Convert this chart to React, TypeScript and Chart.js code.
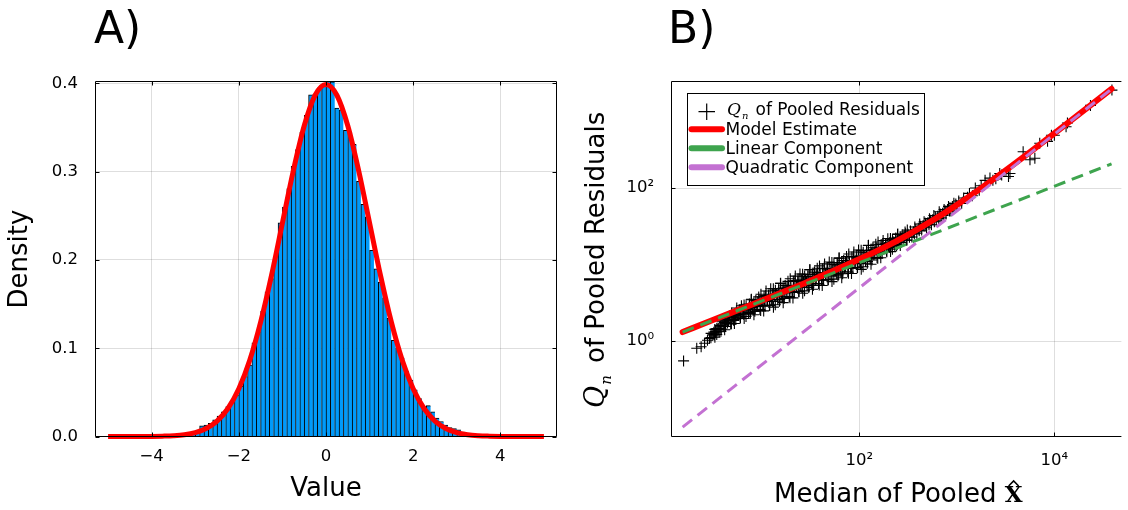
import React, { useEffect, useRef } from "react";
import { Chart, registerables } from "chart.js";

Chart.register(...registerables);

const SANS = '"DejaVu Sans", "Liberation Sans", sans-serif';
const SERIF = '"DejaVu Serif", "Liberation Serif", serif';

// ---------------- Panel A data ----------------
const histBinStart = -3.4;
const histBinWidth = 0.1;
const histDensity = [
  0.001, 0.002, 0.003, 0.004, 0.005,
  0.012, 0.013, 0.015, 0.019, 0.023, 0.028, 0.034, 0.04, 0.047, 0.057,
  0.068, 0.081, 0.106, 0.119, 0.142, 0.164, 0.179, 0.204, 0.242, 0.26,
  0.281, 0.306, 0.325, 0.345, 0.364, 0.387, 0.388, 0.395, 0.399,
  0.403, 0.402, 0.372, 0.37, 0.347, 0.345, 0.331, 0.289, 0.263, 0.249,
  0.211, 0.19, 0.175, 0.157, 0.134, 0.109, 0.1, 0.089, 0.074, 0.064,
  0.053, 0.043, 0.034, 0.035, 0.028, 0.021, 0.017, 0.013, 0.01, 0.009,
  0.0075, 0.005, 0.003, 0.002, 0.001,
];
const pdfX = [
  -5, -4.75, -4.5, -4.25, -4, -3.75, -3.5, -3.25, -3, -2.75, -2.5, -2.25, -2, -1.75, -1.5, -1.25, -1, -0.75, -0.5, -0.25,
  0, 0.25, 0.5, 0.75, 1, 1.25, 1.5, 1.75, 2, 2.25, 2.5, 2.75, 3, 3.25, 3.5, 3.75, 4, 4.25, 4.5, 4.75, 5,
];
const pdfY = [
  0, 0, 0, 0, 0.0001, 0.0004, 0.0009, 0.002, 0.0044, 0.0091, 0.0175, 0.0317, 0.054, 0.0863, 0.1295, 0.1826, 0.242, 0.3011, 0.3521, 0.3867,
  0.3989, 0.3867, 0.3521, 0.3011, 0.242, 0.1826, 0.1295, 0.0863, 0.054, 0.0317, 0.0175, 0.0091, 0.0044, 0.002, 0.0009, 0.0004, 0.0001, 0, 0, 0, 0,
];
const histXTicks = [-4, -2, 0, 2, 4];
const histYTicks = [0, 0.1, 0.2, 0.3, 0.4];
const histXRange = [-5.3, 5.3];
const histYRange = [0, 0.4028];

// ---------------- Panel B data ----------------
// scatter points, as [log10(median), log10(Qn)]
const qnScatterLog: [number, number][] = [
  [0.2, -0.26], [0.335, -0.095], [0.38, -0.075], [0.415, -0.03], [0.445, 0.01], [0.465, 0.035], [0.482, 0.1], [0.515, 0.078], [0.53, 0.12],
  [0.48, 0.044], [0.5, 0.08], [0.51, 0.116], [0.52, 0.152],
  [0.54, 0.085], [0.565, 0.121], [0.55, 0.157], [0.575, 0.196],
  [0.585, 0.156], [0.605, 0.198], [0.62, 0.24], [0.595, 0.275],
  [0.63, 0.191], [0.65, 0.236], [0.66, 0.281], [0.67, 0.326],
  [0.69, 0.225], [0.715, 0.269], [0.7, 0.313], [0.725, 0.361],
  [0.735, 0.286], [0.755, 0.337], [0.77, 0.388], [0.745, 0.431],
  [0.78, 0.31], [0.8, 0.364], [0.81, 0.418], [0.82, 0.472],
  [0.84, 0.322], [0.865, 0.374], [0.85, 0.426], [0.875, 0.483],
  [0.885, 0.377], [0.905, 0.437], [0.92, 0.497], [0.895, 0.547],
  [0.93, 0.388], [0.95, 0.451], [0.96, 0.515], [0.97, 0.577],
  [0.99, 0.398], [1.015, 0.459], [1.0, 0.519], [1.025, 0.585],
  [1.035, 0.458], [1.055, 0.527], [1.07, 0.596], [1.045, 0.653],
  [1.08, 0.467], [1.1, 0.539], [1.11, 0.611], [1.12, 0.683],
  [1.14, 0.475], [1.165, 0.543], [1.15, 0.612], [1.175, 0.687],
  [1.185, 0.543], [1.205, 0.618], [1.22, 0.693], [1.195, 0.755],
  [1.23, 0.555], [1.25, 0.63], [1.26, 0.705], [1.27, 0.78],
  [1.29, 0.567], [1.315, 0.636], [1.3, 0.705], [1.325, 0.78],
  [1.335, 0.636], [1.355, 0.711], [1.37, 0.786], [1.345, 0.849],
  [1.38, 0.649], [1.4, 0.724], [1.41, 0.799], [1.42, 0.874],
  [1.44, 0.656], [1.465, 0.725], [1.45, 0.794], [1.475, 0.869],
  [1.485, 0.72], [1.505, 0.795], [1.52, 0.87], [1.495, 0.933],
  [1.53, 0.726], [1.55, 0.801], [1.56, 0.876], [1.57, 0.951],
  [1.59, 0.732], [1.615, 0.801], [1.6, 0.87], [1.625, 0.945],
  [1.635, 0.795], [1.655, 0.87], [1.67, 0.945], [1.645, 1.008],
  [1.68, 0.802], [1.7, 0.877], [1.71, 0.952], [1.72, 1.027],
  [1.74, 0.809], [1.765, 0.878], [1.75, 0.946], [1.775, 1.021],
  [1.785, 0.872], [1.805, 0.947], [1.82, 1.022], [1.795, 1.084],
  [1.83, 0.88], [1.85, 0.955], [1.86, 1.03], [1.87, 1.105],
  [1.89, 0.887], [1.915, 0.956], [1.9, 1.025], [1.925, 1.1],
  [1.935, 0.952], [1.955, 1.027], [1.97, 1.102], [1.945, 1.164],
  [1.98, 0.96], [2.0, 1.035], [2.01, 1.11], [2.02, 1.185],
  [2.04, 0.971], [2.065, 1.04], [2.05, 1.109], [2.075, 1.184],
  [2.085, 1.039], [2.105, 1.114], [2.12, 1.189], [2.095, 1.251],
  [2.13, 1.059], [2.15, 1.128], [2.16, 1.197], [2.17, 1.266],
  [2.19, 1.083], [2.215, 1.141], [2.2, 1.199], [2.225, 1.262],
  [2.235, 1.154], [2.255, 1.211], [2.27, 1.268], [2.245, 1.315],
  [2.28, 1.177], [2.3, 1.231], [2.31, 1.285], [2.32, 1.339],
  [2.34, 1.201], [2.365, 1.248], [2.35, 1.295], [2.375, 1.346],
  [2.385, 1.264], [2.405, 1.312], [2.42, 1.36], [2.395, 1.4],
  [2.43, 1.29], [2.45, 1.335], [2.46, 1.38], [2.47, 1.425],
  [2.49, 1.319], [2.515, 1.358], [2.5, 1.396], [2.525, 1.438],
  // second pass through the dense band
  [0.513, 0.088], [0.529, 0.126], [0.541, 0.163], [0.521, 0.051],
  [0.583, 0.127], [0.56, 0.164], [0.575, 0.205], [0.593, 0.252],
  [0.613, 0.19], [0.629, 0.234], [0.641, 0.277], [0.621, 0.147],
  [0.683, 0.222], [0.66, 0.265], [0.675, 0.311], [0.693, 0.365],
  [0.713, 0.28], [0.729, 0.329], [0.741, 0.379], [0.721, 0.23],
  [0.783, 0.3], [0.76, 0.349], [0.775, 0.401], [0.793, 0.462],
  [0.813, 0.35], [0.829, 0.406], [0.841, 0.461], [0.821, 0.295],
  [0.883, 0.359], [0.86, 0.413], [0.875, 0.471], [0.893, 0.539],
  [0.913, 0.406], [0.929, 0.467], [0.941, 0.529], [0.921, 0.344],
  [0.983, 0.412], [0.96, 0.472], [0.975, 0.536], [0.993, 0.611],
  [1.013, 0.461], [1.029, 0.529], [1.041, 0.596], [1.021, 0.394],
  [1.083, 0.466], [1.06, 0.531], [1.075, 0.601], [1.093, 0.683],
  [1.113, 0.517], [1.129, 0.59], [1.141, 0.664], [1.121, 0.443],
  [1.183, 0.521], [1.16, 0.59], [1.175, 0.665], [1.193, 0.753],
  [1.213, 0.577], [1.229, 0.652], [1.241, 0.727], [1.221, 0.502],
  [1.283, 0.583], [1.26, 0.652], [1.275, 0.727], [1.293, 0.814],
  [1.313, 0.639], [1.329, 0.714], [1.341, 0.789], [1.321, 0.564],
  [1.383, 0.645], [1.36, 0.714], [1.375, 0.789], [1.393, 0.877],
  [1.413, 0.699], [1.429, 0.774], [1.441, 0.849], [1.421, 0.624],
  [1.483, 0.7], [1.46, 0.769], [1.475, 0.844], [1.493, 0.932],
  [1.513, 0.751], [1.529, 0.826], [1.541, 0.901], [1.521, 0.676],
  [1.583, 0.751], [1.56, 0.82], [1.575, 0.895], [1.593, 0.982],
  [1.613, 0.801], [1.629, 0.876], [1.641, 0.951], [1.621, 0.726],
  [1.683, 0.801], [1.66, 0.87], [1.675, 0.945], [1.693, 1.033],
  [1.713, 0.852], [1.729, 0.927], [1.741, 1.002], [1.721, 0.777],
  [1.783, 0.852], [1.76, 0.921], [1.775, 0.996], [1.793, 1.084],
  [1.813, 0.903], [1.829, 0.978], [1.841, 1.053], [1.821, 0.828],
  [1.883, 0.905], [1.86, 0.974], [1.875, 1.049], [1.893, 1.137],
  [1.913, 0.957], [1.929, 1.032], [1.941, 1.107], [1.921, 0.882],
  [1.983, 0.959], [1.96, 1.028], [1.975, 1.103], [1.993, 1.19],
  [2.013, 1.012], [2.029, 1.087], [2.041, 1.162], [2.021, 0.937],
  [2.083, 1.017], [2.06, 1.086], [2.075, 1.161], [2.093, 1.249],
  [2.113, 1.076], [2.129, 1.148], [2.141, 1.22], [2.121, 1.004],
  [2.183, 1.09], [2.16, 1.151], [2.175, 1.217], [2.193, 1.294],
  [2.213, 1.149], [2.229, 1.209], [2.241, 1.269], [2.221, 1.089],
  [2.283, 1.167], [2.26, 1.218], [2.275, 1.274], [2.293, 1.338],
  [2.313, 1.221], [2.329, 1.274], [2.341, 1.326], [2.321, 1.169],
  [2.383, 1.241], [2.36, 1.287], [2.375, 1.336], [2.393, 1.394],
  [2.413, 1.294], [2.429, 1.341], [2.441, 1.387], [2.421, 1.248],
  [2.483, 1.317], [2.46, 1.357], [2.475, 1.401], [2.493, 1.452],
  // upper part of the band
  [2.54, 1.36], [2.555, 1.43], [2.57, 1.49], [2.565, 1.4], [2.58, 1.46],
  [2.59, 1.41], [2.605, 1.475], [2.62, 1.53], [2.615, 1.44], [2.63, 1.5],
  [2.64, 1.45], [2.655, 1.51], [2.665, 1.56], [2.675, 1.5], [2.68, 1.54],
  [2.69, 1.48], [2.705, 1.55], [2.72, 1.6], [2.715, 1.52], [2.73, 1.58],
  [2.74, 1.52], [2.755, 1.59], [2.765, 1.64], [2.77, 1.56], [2.78, 1.62],
  [2.79, 1.57], [2.805, 1.63], [2.82, 1.69], [2.815, 1.6], [2.83, 1.66],
  [2.84, 1.61], [2.855, 1.67], [2.87, 1.72], [2.86, 1.64], [2.88, 1.7],
  [2.89, 1.66], [2.905, 1.72], [2.915, 1.76], [2.925, 1.7], [2.93, 1.74],
  [2.94, 1.7], [2.955, 1.76], [2.97, 1.8], [2.96, 1.73], [2.99, 1.79],
  [3.0, 1.77], [3.02, 1.83], [3.05, 1.8], [3.07, 1.87], [3.11, 1.88], [3.13, 1.93], [3.16, 1.9], [3.19, 2.0],
  [3.23, 1.97], [3.25, 2.03], [3.29, 2.1], [3.34, 2.13], [3.37, 2.1], [3.4, 2.12], [3.44, 2.19], [3.46, 2.17],
  [3.53, 2.15], [3.545, 2.19], [3.68, 2.475], [3.75, 2.37], [3.8, 2.39], [3.85, 2.585], [3.93, 2.61], [3.97, 2.69],
  [4.0, 2.69], [4.12, 2.8], [4.134, 2.85], [4.37, 3.08], [4.59, 3.28],
];
const modelX = [1.55, 3.16, 10, 31.6, 100, 178, 316, 562, 1000, 1778, 3162, 5623, 10000, 19950, 38550];
const modelY = [1.31, 1.88, 3.37, 6.13, 11.7, 16.6, 24.5, 37.6, 60.2, 99.8, 170, 295, 518, 1026, 1978];
const linearX = [1.55, 38550];
const linearY = [1.31, 207];
const quadX = [1.55, 38550];
const quadY = [0.075, 1968];
const qnXTicks = [100, 10000];
const qnYTicks = [1, 100];
const qnXRange = [1.178, 48640];
const qnYRange = [0.0565, 2506];
const legendLabels = ["of Pooled Residuals", "Model Estimate", "Linear Component", "Quadratic Component"];

const RED = "#ff0000";
const GREEN = "#3ea44e";
const PURPLE = "#c371d2";
const BLUE = "#009afa";
const GRID = "rgba(0,0,0,0.13)";

const SUP: Record<string, string> = { "0": "\u2070", "1": "\u00b9", "2": "\u00b2", "3": "\u00b3", "4": "\u2074" };
const powLabel = (v: number) => "10" + String(Math.round(Math.log10(v))).split("").map((c) => SUP[c] || c).join("");
const numLabel = (v: number) => (v < 0 ? "\u2212" + Math.abs(v) : String(v));

function drawInnerTicks(ctx: CanvasRenderingContext2D, chart: any, sides: { right: boolean }) {
  const a = chart.chartArea;
  const xs = chart.scales.x;
  const ys = chart.scales.y;
  const L = Math.round(a.left) + 0.5;
  const T = Math.round(a.top) + 0.5;
  const B = Math.round(a.bottom) - 0.5;
  const R = Math.round(a.right) - 0.5;
  ctx.strokeStyle = "#000";
  ctx.lineWidth = 1;
  ctx.beginPath();
  xs.ticks.forEach((t: any) => {
    const px = Math.round(xs.getPixelForValue(t.value)) + 0.5;
    ctx.moveTo(px, B);
    ctx.lineTo(px, B - 4);
    ctx.moveTo(px, T);
    ctx.lineTo(px, T + 4);
  });
  ys.ticks.forEach((t: any) => {
    const py = Math.round(ys.getPixelForValue(t.value)) + 0.5;
    ctx.moveTo(L, py);
    ctx.lineTo(L + 4, py);
    if (sides.right) {
      ctx.moveTo(R, py);
      ctx.lineTo(R - 4, py);
    }
  });
  ctx.stroke();
  ctx.beginPath();
  if (sides.right) {
    ctx.rect(L, T, R - L, B - T);
  } else {
    ctx.moveTo(a.right, T);
    ctx.lineTo(L, T);
    ctx.lineTo(L, B);
    ctx.lineTo(a.right, B);
  }
  ctx.stroke();
}

const panelADecor = {
  id: "panelADecor",
  afterDraw(chart: any) {
    const ctx: CanvasRenderingContext2D = chart.ctx;
    ctx.save();
    drawInnerTicks(ctx, chart, { right: true });
    ctx.fillStyle = "#000";
    ctx.textBaseline = "alphabetic";
    ctx.font = `44px ${SANS}`;
    ctx.textAlign = "left";
    ctx.fillText("A)", 94, 43);
    ctx.font = `26px ${SANS}`;
    ctx.textAlign = "center";
    ctx.fillText("Value", 326, 496);
    ctx.save();
    ctx.translate(27, 259);
    ctx.rotate(-Math.PI / 2);
    ctx.fillText("Density", 0, 0);
    ctx.restore();
    ctx.restore();
  },
};

const panelBDecor = {
  id: "panelBDecor",
  afterDraw(chart: any) {
    const ctx: CanvasRenderingContext2D = chart.ctx;
    ctx.save();
    drawInnerTicks(ctx, chart, { right: false });
    ctx.fillStyle = "#000";
    ctx.textBaseline = "alphabetic";
    ctx.textAlign = "left";
    ctx.font = `44px ${SANS}`;
    ctx.fillText("B)", 104, 43);

    // x axis title
    ctx.font = `26px ${SANS}`;
    const pre = "Median of Pooled ";
    ctx.fillText(pre, 210, 502);
    const xw = ctx.measureText(pre).width;
    ctx.font = `bold 23px ${SERIF}`;
    const xX = 210 + xw;
    ctx.fillText("X", xX, 502);
    const wX = ctx.measureText("X").width;
    ctx.strokeStyle = "#000";
    ctx.lineWidth = 1.6;
    ctx.beginPath();
    ctx.moveTo(xX + wX / 2 - 5, 486);
    ctx.lineTo(xX + wX / 2, 481);
    ctx.lineTo(xX + wX / 2 + 5, 486);
    ctx.stroke();

    // y axis title
    ctx.save();
    ctx.translate(40, 408);
    ctx.rotate(-Math.PI / 2);
    ctx.font = `italic 27px ${SERIF}`;
    ctx.fillText("Q", 0, 0);
    const wQ = ctx.measureText("Q").width;
    ctx.font = `italic 15px ${SERIF}`;
    ctx.fillText("n", wQ + 1, 7);
    ctx.font = `26px ${SANS}`;
    ctx.fillText("of Pooled Residuals", 45, 0);
    ctx.restore();

    // legend
    const lx = 123, ly = 93, lw = 237, lh = 92;
    ctx.fillStyle = "#fff";
    ctx.fillRect(lx, ly, lw, lh);
    ctx.strokeStyle = "#000";
    ctx.lineWidth = 1;
    ctx.strokeRect(lx + 0.5, ly + 0.5, lw, lh);
    ctx.lineWidth = 1.2;
    ctx.beginPath();
    ctx.moveTo(134.5, 111.7);
    ctx.lineTo(151, 111.7);
    ctx.moveTo(142.7, 103.5);
    ctx.lineTo(142.7, 120);
    ctx.stroke();
    ctx.fillStyle = "#000";
    ctx.font = `italic 17px ${SERIF}`;
    ctx.fillText("Q", 163, 114.5);
    const wq = ctx.measureText("Q").width;
    ctx.font = `italic 10px ${SERIF}`;
    ctx.fillText("n", 163 + wq + 1, 118.5);
    ctx.font = `17px ${SANS}`;
    ctx.fillText(legendLabels[0], 191.5, 114.5);
    const rows: [string, string, number, number][] = [
      [RED, legendLabels[1], 129.3, 135],
      [GREEN, legendLabels[2], 148.3, 154],
      [PURPLE, legendLabels[3], 167.3, 173],
    ];
    rows.forEach(([c, label, yl, yt]) => {
      ctx.strokeStyle = c;
      ctx.lineWidth = 6;
      ctx.lineCap = "round";
      ctx.beginPath();
      ctx.moveTo(127.5, yl);
      ctx.lineTo(158, yl);
      ctx.stroke();
      ctx.fillStyle = "#000";
      ctx.fillText(label, 161.5, yt);
    });
    ctx.restore();
  },
};

function HistogramPanel() {
  const ref = useRef<HTMLCanvasElement>(null);
  useEffect(() => {
    const canvas = ref.current;
    if (!canvas) return;
    const barData = histDensity.map((d, i) => ({ x: histBinStart + (i + 0.5) * histBinWidth, y: d }));
    const pdfData = pdfX.map((x, i) => ({ x, y: pdfY[i] }));
    const tickFont = { family: SANS, size: 16.5 };
    const chart = new Chart(canvas, {
      type: "bar",
      data: {
        datasets: [
          {
            type: "line",
            data: pdfData,
            borderColor: RED,
            borderWidth: 5,
            pointRadius: 0,
            cubicInterpolationMode: "monotone",
            fill: false,
            order: 0,
            clip: false,
          } as any,
          {
            type: "bar",
            data: barData,
            backgroundColor: BLUE,
            borderColor: "#000",
            borderWidth: { top: 1, left: 1, right: 0, bottom: 0 },
            borderSkipped: false,
            barPercentage: 1,
            categoryPercentage: 1,
            order: 1,
          } as any,
        ],
      },
      options: {
        responsive: false,
        animation: false,
        events: [],
        layout: { padding: { left: 0, top: 81, right: 7, bottom: 0 } },
        plugins: { legend: { display: false }, tooltip: { enabled: false } },
        scales: {
          x: {
            type: "linear",
            min: histXRange[0],
            max: histXRange[1],
            offset: false,
            afterBuildTicks: (s: any) => {
              s.ticks = histXTicks.map((v) => ({ value: v }));
            },
            afterFit: (s: any) => {
              s.height = 73.5;
            },
            ticks: { callback: (v: any) => numLabel(Number(v)), font: tickFont, color: "#000", padding: 10, maxRotation: 0, autoSkip: false },
            grid: { color: GRID, drawTicks: false, offset: false, lineWidth: 1 },
            border: { display: false },
          },
          y: {
            type: "linear",
            min: histYRange[0],
            max: histYRange[1],
            afterBuildTicks: (s: any) => {
              s.ticks = histYTicks.map((v) => ({ value: v }));
            },
            afterFit: (s: any) => {
              s.width = 95;
            },
            ticks: { callback: (v: any) => Number(v).toFixed(1), font: tickFont, color: "#000", padding: 17 },
            grid: { color: GRID, drawTicks: false, lineWidth: 1 },
            border: { display: false },
          },
        },
      } as any,
      plugins: [panelADecor],
    });
    return () => chart.destroy();
  }, []);
  return <canvas ref={ref} width={564} height={510} style={{ position: "absolute", left: 0, top: 0 }} />;
}

function QnPanel() {
  const ref = useRef<HTMLCanvasElement>(null);
  useEffect(() => {
    const canvas = ref.current;
    if (!canvas) return;
    const scatterData = qnScatterLog.map(([lx, ly]) => ({ x: Math.pow(10, lx), y: Math.pow(10, ly) }));
    const modelData = modelX.map((x, i) => ({ x, y: modelY[i] }));
    const linData = linearX.map((x, i) => ({ x, y: linearY[i] }));
    const quadData = quadX.map((x, i) => ({ x, y: quadY[i] }));
    const tickFont = { family: SANS, size: 16.5 };
    const chart = new Chart(canvas, {
      type: "scatter",
      data: {
        datasets: [
          { data: quadData, showLine: true, borderColor: PURPLE, borderWidth: 3, borderDash: [12, 7], pointRadius: 0, order: 0 },
          { data: linData, showLine: true, borderColor: GREEN, borderWidth: 3, borderDash: [12, 7], pointRadius: 0, order: 1 },
          {
            data: modelData,
            showLine: true,
            borderColor: RED,
            borderWidth: 6,
            borderCapStyle: "round",
            cubicInterpolationMode: "monotone",
            pointRadius: 0,
            order: 2,
          },
          {
            data: scatterData,
            showLine: false,
            pointStyle: "cross",
            pointRadius: 5.5,
            pointBorderColor: "#000",
            pointBorderWidth: 1.1,
            borderColor: "#000",
            order: 3,
          },
        ] as any,
      },
      options: {
        responsive: false,
        animation: false,
        events: [],
        layout: { padding: { left: 0, top: 81, right: 0, bottom: 0 } },
        plugins: { legend: { display: false }, tooltip: { enabled: false } },
        scales: {
          x: {
            type: "logarithmic",
            min: qnXRange[0],
            max: qnXRange[1],
            afterBuildTicks: (s: any) => {
              s.ticks = qnXTicks.map((v) => ({ value: v }));
            },
            afterFit: (s: any) => {
              s.height = 73.5;
            },
            ticks: { callback: (v: any) => powLabel(Number(v)), font: tickFont, color: "#000", padding: 14, maxRotation: 0, autoSkip: false },
            grid: { color: GRID, drawTicks: false, lineWidth: 1 },
            border: { display: false },
          },
          y: {
            type: "logarithmic",
            min: qnYRange[0],
            max: qnYRange[1],
            afterBuildTicks: (s: any) => {
              s.ticks = qnYTicks.map((v) => ({ value: v }));
            },
            afterFit: (s: any) => {
              s.width = 107;
            },
            ticks: { callback: (v: any) => powLabel(Number(v)), font: tickFont, color: "#000", padding: 17 },
            grid: { color: GRID, drawTicks: false, lineWidth: 1 },
            border: { display: false },
          },
        },
      } as any,
      plugins: [panelBDecor],
    });
    return () => chart.destroy();
  }, []);
  return <canvas ref={ref} width={564} height={510} style={{ position: "absolute", left: 564, top: 0 }} />;
}

export default function App() {
  return (
    <div style={{ position: "fixed", left: 0, top: 0, width: 1128, height: 510, background: "#fff", overflow: "hidden" }}>
      <HistogramPanel />
      <QnPanel />
    </div>
  );
}
